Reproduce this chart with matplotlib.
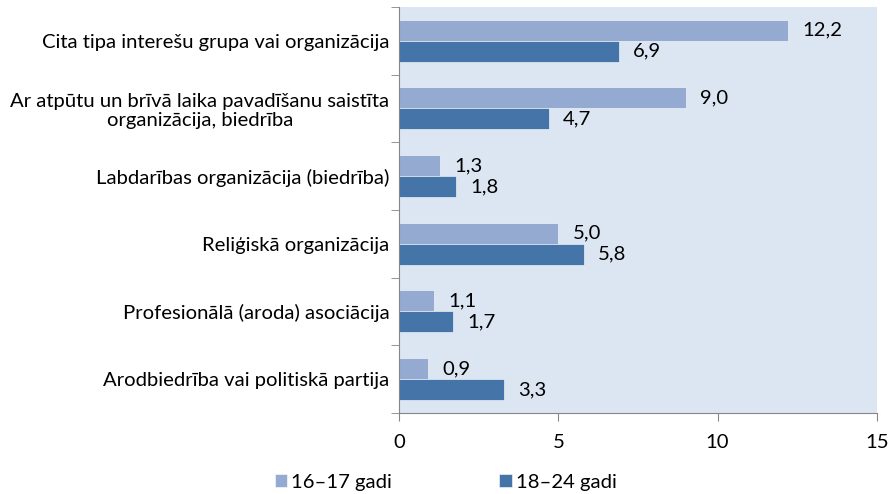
import matplotlib.pyplot as plt
import numpy as np

plt.rcParams['font.family'] = ['Lato', 'DejaVu Sans']

categories = [
    "Cita tipa interešu grupa vai organizācija",
    "Ar atpūtu un brīvā laika pavadīšanu saistīta\norganizācija, biedrība",
    "Labdarības organizācija (biedrība)",
    "Reliģiskā organizācija",
    "Profesionālā (aroda) asociācija",
    "Arodbiedrība vai politiskā partija",
]
age_16_17 = [12.2, 9.0, 1.3, 5.0, 1.1, 0.9]
age_18_24 = [6.9, 4.7, 1.8, 5.8, 1.7, 3.3]
series_names = ["16–17 gadi", "18–24 gadi"]

light = "#95AAD1"
dark = "#4574A8"
fs = 14.6

fig = plt.figure(figsize=(8.95, 4.94), dpi=100)
ax = fig.add_axes([0.4458, 0.164, 0.534, 0.822])
ax.set_facecolor("#DCE6F2")

n = len(categories)
y = np.arange(n)[::-1]  # first category at the top
h = 0.31

b1 = ax.barh(y + h / 2, age_16_17, height=h, color=light, edgecolor="white", linewidth=0.4, label=series_names[0])
b2 = ax.barh(y - h / 2, age_18_24, height=h, color=dark, edgecolor="white", linewidth=0.4, label=series_names[1])

for bars, vals in ((b1, age_16_17), (b2, age_18_24)):
    for bar, v in zip(bars, vals):
        ax.text(v + 0.45, bar.get_y() + bar.get_height() / 2, f"{v:.1f}".replace(".", ","),
                va="center", ha="left", fontsize=fs, color="black")

ax.set_xlim(0, 15)
ax.set_ylim(-0.5, n - 0.5)
ax.set_xticks([0, 5, 10, 15])
ax.tick_params(axis="x", length=6, color="#868686", labelsize=fs, pad=9)

ax.set_yticks(y)
ax.set_yticklabels(categories, fontsize=fs, multialignment="center", linespacing=1.15)
ax.set_yticks(np.arange(n + 1) - 0.5, minor=True)
ax.tick_params(axis="y", which="major", length=0, pad=7)
ax.tick_params(axis="y", which="minor", length=6, color="#868686")

for s in ("top", "right"):
    ax.spines[s].set_visible(False)
for s in ("left", "bottom"):
    ax.spines[s].set_color("#868686")

fig.legend(handles=[b1, b2], loc="center left", bbox_to_anchor=(0.307, 0.024), ncol=2, frameon=False,
           fontsize=fs, handlelength=0.6, handleheight=0.6, handletextpad=0.2, columnspacing=5.3,
           borderpad=0, borderaxespad=0)

fig.savefig("out.png", dpi=100)
